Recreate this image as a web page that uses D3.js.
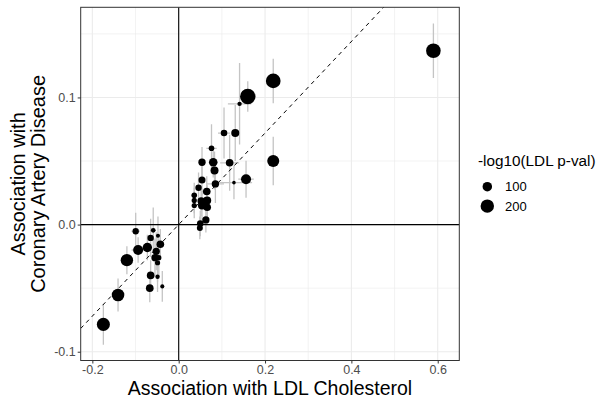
<!DOCTYPE html>
<html>
<head>
<meta charset="utf-8">
<script src="https://cdn.jsdelivr.net/npm/d3@7"></script>
<style>
  body { margin: 0; background: #fff; }
  text { font-family: "Liberation Sans", Arial, sans-serif; }
</style>
</head>
<body>
<div id="chart"></div>
<script>
// values
const ldlBeta = [0.590, 0.219, 0.160, 0.141, 0.105, 0.131, 0.076, 0.054, 0.080, 0.083,
  0.118, 0.219, 0.156, 0.054, 0.085, 0.128, 0.046, 0.065, 0.036, 0.036,
  0.052, 0.066, 0.036, 0.054, 0.066, 0.063, 0.050, 0.049,
  -0.0996, -0.059, -0.048, -0.065, -0.0425, -0.094, -0.0726, -0.052, -0.055, -0.046,
  -0.049, -0.120, -0.065, -0.049, -0.067, -0.038, -0.1405, -0.1745];
const cadBeta = [0.1367, 0.113, 0.1008, 0.095, 0.072, 0.072, 0.060, 0.049, 0.049, 0.0425,
  0.0486, 0.050, 0.0357, 0.035, 0.032, 0.033, 0.029, 0.026, 0.023, 0.019,
  0.0186, 0.019, 0.015, 0.015, 0.0136, 0.0037, 0.0008, -0.0026,
  -0.0052, -0.0045, -0.0087, -0.0105, -0.0155, -0.020, -0.018, -0.021, -0.026, -0.026,
  -0.030, -0.028, -0.040, -0.041, -0.050, -0.0486, -0.0554, -0.0785];
// half width of the CAD interval
const cadErr = [0.0215, 0.0175, 0.012, 0.032, 0.02, 0.022, 0.019, 0.012, 0.012, 0.015,
  0.022, 0.019, 0.0145, 0.012, 0.015, 0.013, 0.012, 0.012, 0.01, 0.01,
  0.012, 0.012, 0.01, 0.012, 0.012, 0.01, 0.01, 0.009,
  0.0145, 0.018, 0.015, 0.015, 0.012, 0.01, 0.01, 0.015, 0.015, 0.015,
  0.015, 0.011, 0.012, 0.012, 0.011, 0.012, 0.013, 0.016];
// half width of the LDL interval
const ldlErr = [0.01, 0.01, 0.012, 0.027, 0.014, 0.008, 0.012, 0.006, 0.006, 0.006,
  0.022, 0.008, 0.018, 0.006, 0.02, 0.042, 0.005, 0.006, 0.005, 0.005,
  0.006, 0.006, 0.005, 0.006, 0.006, 0.006, 0.005, 0.005,
  0.01, 0.005, 0.005, 0.006, 0.006, 0.015, 0.008, 0.006, 0.006, 0.005,
  0.005, 0.008, 0.006, 0.005, 0.006, 0.005, 0.008, 0.008];
const logP = [237, 240, 265, 21, 48, 71, 35, 60, 82, 71,
  65, 160, 111, 55, 60, 14, 45, 65, 35, 30,
  60, 71, 30, 71, 65, 58, 48, 40,
  45, 25, 18, 45, 65, 111, 98, 58, 58, 30,
  30, 170, 65, 21, 65, 18, 175, 190];
const xTicks = [-0.2, 0.0, 0.2, 0.4, 0.6];
const xMinor = [-0.1, 0.1, 0.3, 0.5];
const yTicks = [-0.1, 0.0, 0.1];
const yMinor = [-0.05, 0.05, 0.15];
const legendBreaks = [100, 200];
const slope = 0.36;

const width = 599, height = 399;
const panel = {left: 80.7, right: 459.3, top: 7.3, bottom: 360.5};

const x = d3.scaleLinear().domain([-0.227, 0.65]).range([panel.left, panel.right]);
const y = d3.scaleLinear().domain([-0.1069, 0.1709]).range([panel.bottom, panel.top]);
const r = d3.scaleSqrt().domain([0, 270]).range([0, 7.8]);

const data = ldlBeta.map((b, i) => ({
  x: b, y: cadBeta[i], ye: cadErr[i], xe: ldlErr[i], p: logP[i]
}));

const svg = d3.select("#chart").append("svg")
    .attr("width", width)
    .attr("height", height);

svg.append("defs").append("clipPath").attr("id", "clip")
  .append("rect")
    .attr("x", panel.left).attr("y", panel.top)
    .attr("width", panel.right - panel.left)
    .attr("height", panel.bottom - panel.top);

const grid = svg.append("g").attr("stroke", "#ebebeb");
grid.selectAll(".vmin").data(xMinor).join("line")
    .attr("x1", d => x(d)).attr("x2", d => x(d))
    .attr("y1", panel.top).attr("y2", panel.bottom)
    .attr("stroke-width", 0.6);
grid.selectAll(".hmin").data(yMinor).join("line")
    .attr("y1", d => y(d)).attr("y2", d => y(d))
    .attr("x1", panel.left).attr("x2", panel.right)
    .attr("stroke-width", 0.6);
grid.selectAll(".vmaj").data(xTicks).join("line")
    .attr("x1", d => x(d)).attr("x2", d => x(d))
    .attr("y1", panel.top).attr("y2", panel.bottom)
    .attr("stroke-width", 1.1);
grid.selectAll(".hmaj").data(yTicks).join("line")
    .attr("y1", d => y(d)).attr("y2", d => y(d))
    .attr("x1", panel.left).attr("x2", panel.right)
    .attr("stroke-width", 1.1);

const plot = svg.append("g").attr("clip-path", "url(#clip)");

// error bars
plot.append("g").attr("stroke", "#c4c4c4").attr("stroke-width", 1.3)
  .selectAll("line.v").data(data).join("line")
    .attr("x1", d => x(d.x)).attr("x2", d => x(d.x))
    .attr("y1", d => y(d.y - d.ye)).attr("y2", d => y(d.y + d.ye));
plot.append("g").attr("stroke", "#c4c4c4").attr("stroke-width", 1.3)
  .selectAll("line.h").data(data).join("line")
    .attr("y1", d => y(d.y)).attr("y2", d => y(d.y))
    .attr("x1", d => x(d.x - d.xe)).attr("x2", d => x(d.x + d.xe));

// zero lines
plot.append("line")
    .attr("x1", x(0)).attr("x2", x(0))
    .attr("y1", panel.top).attr("y2", panel.bottom)
    .attr("stroke", "#000").attr("stroke-width", 1.1);
plot.append("line")
    .attr("x1", panel.left).attr("x2", panel.right)
    .attr("y1", y(0)).attr("y2", y(0))
    .attr("stroke", "#000").attr("stroke-width", 1.1);

// dashed fit through origin
const xd = x.domain();
plot.append("line")
    .attr("x1", x(xd[0])).attr("y1", y(xd[0] * slope))
    .attr("x2", x(xd[1])).attr("y2", y(xd[1] * slope))
    .attr("stroke", "#000").attr("stroke-width", 1)
    .attr("stroke-dasharray", "4,4");

plot.append("g").selectAll("circle").data(data).join("circle")
    .attr("cx", d => x(d.x))
    .attr("cy", d => y(d.y))
    .attr("r", d => r(d.p))
    .attr("fill", "#000");

// panel border
svg.append("rect")
    .attr("x", panel.left).attr("y", panel.top)
    .attr("width", panel.right - panel.left)
    .attr("height", panel.bottom - panel.top)
    .attr("fill", "none").attr("stroke", "#333").attr("stroke-width", 1);

// axes
const fmt = d => d3.format(".1f")(d).replace("−", "-");
const xAxis = svg.append("g")
    .attr("transform", `translate(0,${panel.bottom})`)
    .call(d3.axisBottom(x).tickValues(xTicks).tickFormat(fmt).tickSizeOuter(0).tickSize(3).tickPadding(2));
const yAxis = svg.append("g")
    .attr("transform", `translate(${panel.left},0)`)
    .call(d3.axisLeft(y).tickValues(yTicks).tickFormat(fmt).tickSizeOuter(0).tickSize(3).tickPadding(2));
[xAxis, yAxis].forEach(a => {
  a.select(".domain").remove();
  a.selectAll(".tick line").attr("stroke", "#333");
  a.selectAll(".tick text")
      .attr("fill", "#4d4d4d")
      .attr("font-size", 12.5)
      .attr("font-family", "Liberation Sans, Arial, sans-serif");
});

// axis titles
svg.append("text")
    .attr("x", (panel.left + panel.right) / 2)
    .attr("y", 394.8)
    .attr("text-anchor", "middle")
    .attr("font-size", 19.5)
    .text("Association with LDL Cholesterol");
const yTitle = svg.append("text")
    .attr("transform", `translate(0,${(panel.top + panel.bottom) / 2}) rotate(-90)`)
    .attr("text-anchor", "middle")
    .attr("font-size", 20);
yTitle.append("tspan").attr("x", 0).attr("y", 25).text("Association with");
yTitle.append("tspan").attr("x", 0).attr("y", 44.5).text("Coronary Artery Disease");

// legend
const legend = svg.append("g").attr("transform", "translate(478,0)");
legend.append("text")
    .attr("x", 0).attr("y", 166)
    .attr("font-size", 15.3)
    .text("-log10(LDL p-val)");
const items = legend.selectAll("g.item").data(legendBreaks).join("g")
    .attr("transform", (d, i) => `translate(0,${186.7 + i * 19.4})`);
items.append("circle")
    .attr("cx", 9.3).attr("cy", 0)
    .attr("r", d => r(d))
    .attr("fill", "#000");
items.append("text")
    .attr("x", 27).attr("y", 4.7)
    .attr("font-size", 13)
    .text(d => d);
</script>
</body>
</html>
